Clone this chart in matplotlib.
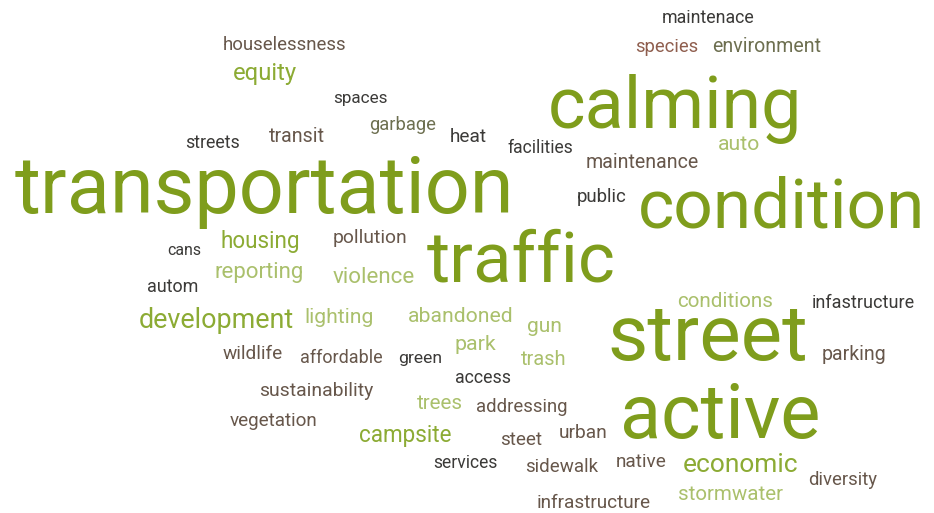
import matplotlib
matplotlib.use("Agg")
import matplotlib.pyplot as plt

# words of the cloud and their colour group
words = [
    "maintenace", "houselessness", "species", "environment", "equity",
    "calming", "spaces", "garbage", "transit", "streets", "heat",
    "facilities", "auto", "maintenance", "transportation", "public",
    "condition", "housing", "pollution", "cans", "traffic", "reporting",
    "violence", "autom", "conditions", "infastructure", "development",
    "lighting", "abandoned", "gun", "street", "park", "parking", "wildlife",
    "affordable", "green", "trash", "access", "sustainability", "trees",
    "addressing", "vegetation", "campsite", "active", "steet", "urban",
    "services", "sidewalk", "native", "economic", "diversity", "stormwater",
    "infrastructure",
]
groups = [
    "dark", "brown", "red", "olive", "mid",
    "big", "dark", "olive", "brown", "dark", "dark",
    "dark", "pale", "brown", "big", "dark",
    "big", "mid", "brown", "dark", "big", "pale",
    "pale", "dark", "pale", "dark", "mid",
    "pale", "pale", "pale", "big", "pale", "brown", "brown",
    "brown", "dark", "pale", "dark", "brown", "pale",
    "brown", "brown", "mid", "big", "brown", "brown",
    "dark", "brown", "brown", "mid", "brown", "pale",
    "brown",
]

# layout in pixels: left edge, baseline, target width
left = [
    662, 223, 635, 712, 233,
    548, 333, 369, 269, 185, 450,
    507, 718, 586, 15, 577,
    638, 220, 333, 167, 427, 215,
    333, 147, 677, 812, 139,
    304, 408, 527, 607, 455, 822, 223,
    300, 398, 521, 455, 259, 417,
    476, 230, 359, 620, 500, 559,
    433, 525, 616, 683, 808, 678,
    537,
]
base = [
    23, 50, 52, 52, 80,
    128, 103, 130, 142, 148, 142,
    153, 150, 168, 213, 202,
    227, 248, 243, 255, 281, 278,
    283, 292, 307, 308, 328,
    323, 322, 332, 360, 350, 360, 359,
    363, 363, 365, 383, 396, 409,
    412, 426, 442, 438, 445, 438,
    468, 472, 467, 472, 485, 500,
    508,
]
width = [
    93, 124, 63, 109, 64,
    254, 55, 67, 56, 55, 37,
    66, 42, 113, 500, 50,
    287, 80, 74, 34, 190, 90,
    82, 51, 96, 103, 155,
    69, 105, 35, 201, 42, 65, 60,
    83, 44, 46, 56, 114, 46,
    91, 88, 93, 200, 42, 49,
    65, 73, 51, 116, 69, 105,
    115,
]

palette = {
    "big": "#7f9d1c",
    "mid": "#8cab34",
    "pale": "#aac06c",
    "dark": "#3b3a38",
    "brown": "#67574b",
    "red": "#8f5e4e",
    "olive": "#6d6f50",
}

fig = plt.figure(figsize=(9.34, 5.13), dpi=100)
ax = fig.add_axes([0, 0, 1, 1])
ax.set_xlim(0, 934)
ax.set_ylim(513, 0)
ax.axis("off")

texts = []
for w, g, x, y in zip(words, groups, left, base):
    t = ax.text(x, y, w, fontsize=10, color=palette[g], family="Roboto",
                ha="left", va="baseline")
    texts.append(t)

# scale every word so it spans the measured width
fig.canvas.draw()
r = fig.canvas.get_renderer()
for t, tw in zip(texts, width):
    ext = t.get_window_extent(renderer=r)
    t.set_fontsize(10 * tw / ext.width)

fig.savefig("out.png", dpi=100, facecolor="white")
